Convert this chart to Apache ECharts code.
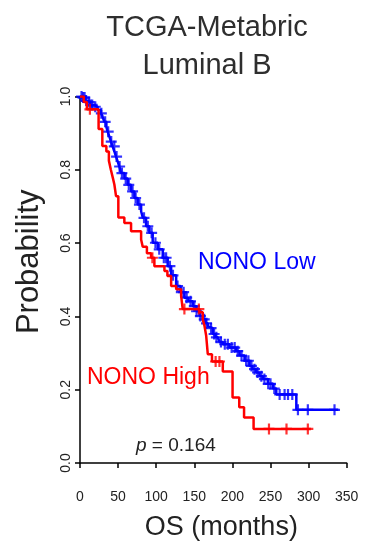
<!DOCTYPE html>
<html>
<head>
<meta charset="utf-8">
<script src="https://cdn.jsdelivr.net/npm/echarts@6/dist/echarts.min.js"></script>
<style>html,body{margin:0;padding:0;background:#fff}#c{width:367px;height:546px}</style>
</head>
<body>
<div id="c"></div>
<script>
// NONO Low (blue): step times (months) and survival after each step
var lowTimes = [0, 3.0, 7.0, 9.6, 13.5, 17.9, 23.1, 27.6, 29.3, 31.9, 34.6, 36.3, 38.5, 40.7, 42.8, 45.1, 47.3, 49.4, 51.6, 53.9, 58.2, 62.6, 67.0, 71.4, 75.7, 80.2, 82.5, 86.7, 91.1, 95.4, 102.0, 108.6, 115.1, 119.6, 126.2, 131.8, 137.1, 142.3, 148.0, 152.8, 156.8, 161.1, 164.7, 167.7, 169.9, 174.3, 177.8, 180.8, 183.1, 187.4, 196.2, 205.0, 209.4, 215.9, 222.5, 226.4, 231.3, 235.6, 240.0, 246.5, 253.1, 257.6, 283.9, 339.0];
var lowSurv  = [1.0, 0.997, 0.989, 0.985, 0.977, 0.972, 0.963, 0.954, 0.947, 0.931, 0.917, 0.904, 0.891, 0.877, 0.864, 0.850, 0.836, 0.823, 0.809, 0.791, 0.776, 0.759, 0.741, 0.723, 0.705, 0.687, 0.669, 0.646, 0.628, 0.601, 0.583, 0.560, 0.537, 0.512, 0.483, 0.466, 0.451, 0.441, 0.428, 0.414, 0.401, 0.392, 0.381, 0.373, 0.368, 0.352, 0.343, 0.338, 0.330, 0.324, 0.315, 0.305, 0.293, 0.279, 0.265, 0.256, 0.247, 0.237, 0.229, 0.216, 0.203, 0.187, 0.145, 0.145];
var lowCensor = [2, 4, 6, 8, 12, 16, 20, 28, 33, 37, 41, 45, 48, 52, 55, 60, 64, 69, 73, 78, 84, 89, 94, 99, 104, 110, 113, 118, 122, 128, 133, 136, 140, 145, 150, 153, 158, 163, 166, 172, 176, 179, 185, 190, 194, 199, 203, 207, 212, 218, 221, 225, 229, 233, 238, 242, 247, 250, 255, 262, 268.5, 273, 278.6, 286, 299, 334];

// NONO High (red)
var highTimes = [0, 5.0, 9.0, 24.4, 29.3, 34.6, 37.9, 40.5, 43.1, 45.1, 47.3, 50.3, 58.2, 67.0, 80.2, 82.3, 87.8, 93.3, 97.6, 110.8, 114.7, 119.6, 126.2, 132.7, 134.8, 156.8, 161.1, 163.4, 165.6, 167.7, 173.2, 187.4, 200.2, 209.0, 215.3, 227.8, 303.0];
var highSurv  = [1.0, 0.985, 0.965, 0.911, 0.865, 0.850, 0.825, 0.800, 0.778, 0.760, 0.728, 0.670, 0.655, 0.632, 0.610, 0.590, 0.572, 0.560, 0.537, 0.524, 0.510, 0.483, 0.474, 0.456, 0.420, 0.411, 0.392, 0.374, 0.347, 0.297, 0.277, 0.250, 0.179, 0.152, 0.124, 0.093, 0.093];
var highCensor = [13, 95, 137, 156, 178, 183, 248, 271, 299];

var xTicks = [0, 50, 100, 150, 200, 250, 300, 350];
var yTicks = [0.0, 0.2, 0.4, 0.6, 0.8, 1.0];

function pairs(t, s) { return t.map(function (v, i) { return [v, s[i]]; }); }
function survAt(t, s, x) { var p = s[0]; for (var i = 0; i < t.length; i++) { if (t[i] <= x) p = s[i]; } return p; }
function censorPts(t, s, c) { return c.map(function (x) { return [x, survAt(t, s, x)]; }); }

var plus = 'path://M4,0H6V4H10V6H6V10H4V6H0V4H4Z';
var font = 'Liberation Sans, Arial, Helvetica, sans-serif';

var chart = echarts.init(document.getElementById('c'), null, { renderer: 'canvas' });
chart.setOption({
  animation: false,
  backgroundColor: '#ffffff',
  textStyle: { fontFamily: font },
  title: [
    { text: 'TCGA-Metabric', left: 207, top: 13, padding: 0, textAlign: 'center',
      textStyle: { fontFamily: font, fontSize: 29, fontWeight: 'normal', color: '#2e2e2e' } },
    { text: 'Luminal B', left: 207, top: 51, padding: 0, textAlign: 'center',
      textStyle: { fontFamily: font, fontSize: 29, fontWeight: 'normal', color: '#2e2e2e' } },
    { text: 'NONO Low', left: 198, top: 251, padding: 0,
      textStyle: { fontFamily: font, fontSize: 23, fontWeight: 'normal', color: '#0000ff' } },
    { text: 'NONO High', left: 87, top: 366, padding: 0,
      textStyle: { fontFamily: font, fontSize: 23, fontWeight: 'normal', color: '#ff0000' } },
    { text: '{i|p} = 0.164', left: 136, top: 436, padding: 0,
      textStyle: { fontFamily: font, fontSize: 19, fontWeight: 'normal', color: '#222222',
        rich: { i: { fontFamily: font, fontSize: 19, fontStyle: 'italic', color: '#222222' } } } }
  ],
  grid: { left: 80, right: 20.3, top: 96.5, bottom: 81.7, containLabel: false },
  xAxis: {
    type: 'value', min: xTicks[0], max: xTicks[xTicks.length - 1], interval: 50,
    offset: 13,
    name: 'OS (months)', nameLocation: 'middle', nameGap: 38,
    nameTextStyle: { fontFamily: font, fontSize: 27, color: '#222222', padding: [0, 0, 0, 16] },
    axisLine: { show: true, lineStyle: { color: '#000', width: 1.5 } },
    axisTick: { show: true, length: 5, lineStyle: { color: '#000', width: 1.5 } },
    axisLabel: { fontFamily: font, fontSize: 14, color: '#222222', margin: 14 },
    splitLine: { show: false }
  },
  yAxis: {
    type: 'value', min: yTicks[0], max: yTicks[yTicks.length - 1], interval: 0.2,
    name: 'Probability', nameLocation: 'middle', nameGap: 35,
    nameTextStyle: { fontFamily: font, fontSize: 31, color: '#222222', padding: [0, 0, 0, 36] },
    axisLine: { show: true, lineStyle: { color: '#000', width: 1.5 } },
    axisTick: { show: true, length: 5, lineStyle: { color: '#000', width: 1.5 } },
    axisLabel: { fontFamily: font, fontSize: 14, color: '#222222', rotate: 90, margin: 7,
      formatter: function (v) { return v.toFixed(1); } },
    splitLine: { show: false }
  },
  series: [
    { name: 'NONO Low', type: 'line', step: 'end', data: pairs(lowTimes, lowSurv),
      showSymbol: false, lineStyle: { color: '#0000ff', width: 2.5 }, z: 2 },
    { name: 'NONO Low censored', type: 'scatter', data: censorPts(lowTimes, lowSurv, lowCensor),
      symbol: plus, symbolSize: 11, itemStyle: { color: '#0000ff' }, z: 3 },
    { name: 'NONO High', type: 'line', step: 'end', data: pairs(highTimes, highSurv),
      showSymbol: false, lineStyle: { color: '#ff0000', width: 2.5 }, z: 4 },
    { name: 'NONO High censored', type: 'scatter', data: censorPts(highTimes, highSurv, highCensor),
      symbol: plus, symbolSize: 11, itemStyle: { color: '#ff0000' }, z: 5 }
  ]
});
</script>
</body>
</html>
